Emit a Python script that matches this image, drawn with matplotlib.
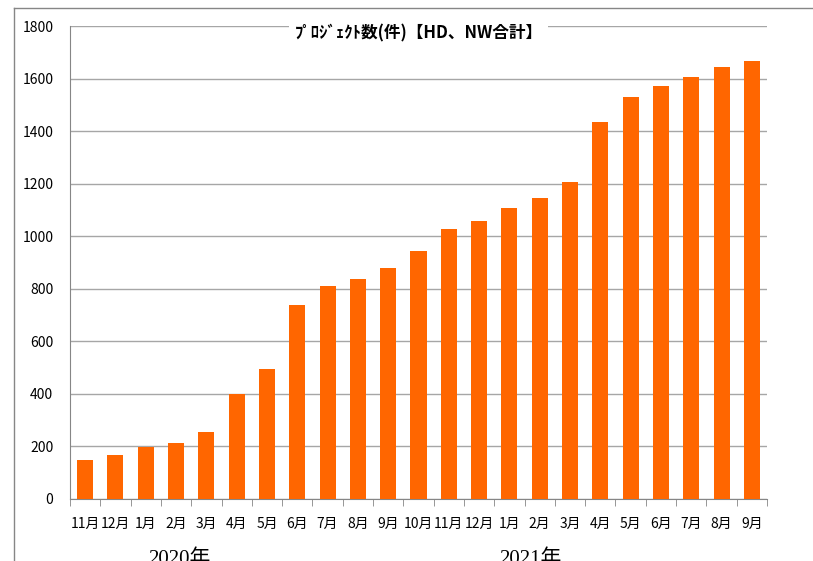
import matplotlib.pyplot as plt
import numpy as np
from matplotlib.lines import Line2D

plt.rcParams['font.family'] = ['Noto Sans CJK JP', 'DejaVu Sans']

months = ["11月", "12月", "1月", "2月", "3月", "4月", "5月", "6月", "7月", "8月", "9月",
          "10月", "11月", "12月", "1月", "2月", "3月", "4月", "5月", "6月", "7月", "8月", "9月"]
projects = [148, 167, 198, 213, 255, 400, 495, 738, 810, 837, 879,
            944, 1027, 1058, 1107, 1145, 1206, 1435, 1530, 1572, 1606, 1644, 1667]
years = ["2020年", "2021年"]
year_pos = [3.1, 14.7]

fig = plt.figure(figsize=(8.13, 5.61), dpi=100)
ax = fig.add_axes([70 / 813, 62 / 561, 697 / 813, 473 / 561])

x = np.arange(len(months))
ax.bar(x, projects, width=0.53, color="#FF6600", zorder=3)

ax.set_xlim(-0.5, len(months) - 0.5)
ax.set_ylim(0, 1800)
ax.set_yticks(np.arange(0, 1801, 200))
ax.yaxis.grid(True, color="#A6A6A6", linewidth=1)
ax.set_axisbelow(True)
ax.tick_params(axis="y", length=0, labelsize=10, pad=12)

ax.set_xticks(x)
ax.set_xticklabels(months, fontsize=10)
ax.tick_params(axis="x", length=0, pad=13)
ax.set_xticks(np.arange(-0.5, len(months)), minor=True)
ax.tick_params(axis="x", which="minor", length=5, color="#868686")

for side in ["top", "right"]:
    ax.spines[side].set_visible(False)
for side in ["left", "bottom"]:
    ax.spines[side].set_color("#868686")

# title sits on the top gridline with a white box behind it
ax.text(0.5, 0.985, "ﾌﾟﾛｼﾞｪｸﾄ数(件)【HD、NW合計】", transform=ax.transAxes,
        ha="center", va="center", fontsize=12, fontweight="bold",
        bbox=dict(facecolor="white", edgecolor="none", pad=4), zorder=5)

for label, pos in zip(years, year_pos):
    ax.text(pos, -0.128, label, transform=ax.get_xaxis_transform(),
            ha="center", va="center", fontsize=15,
            family=["Liberation Serif", "Noto Sans CJK JP"])

# outer chart frame
fig.add_artist(Line2D([14 / 813, 14 / 813], [0, 1 - 8 / 561], color="#868686", linewidth=1))
fig.add_artist(Line2D([14 / 813, 1], [1 - 8 / 561, 1 - 8 / 561], color="#868686", linewidth=1))

fig.savefig("out.png", dpi=100)
